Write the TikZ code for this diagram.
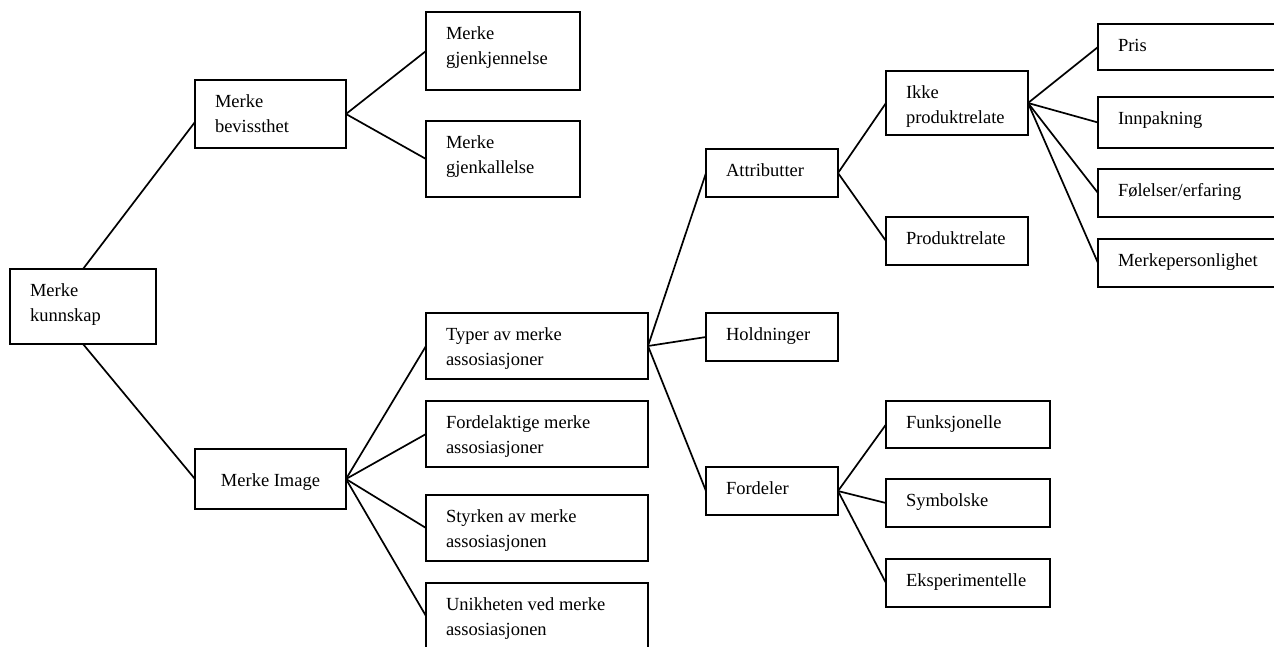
\documentclass[tikz,border=0pt]{standalone}
\usepackage{fontspec}
\setmainfont{Liberation Serif}
% text block of a box: width, height, lines (first baseline 27pt below the top)
\newcommand\cell[3]{\parbox[t][#2pt][t]{\dimexpr#1pt-40pt\relax}{\raggedright\rule{0pt}{27pt}#3}}
\tikzset{
  box/.style={draw, line width=1.5pt, rectangle, inner xsep=20pt, inner ysep=0pt,
              outer sep=0pt, anchor=north west, font=\fontsize{18.5}{25}\selectfont},
  link/.style={draw, line width=1.7pt}
}
\begin{document}
\begin{tikzpicture}[x=1pt,y=-1pt]
\useasboundingbox (0,0) rectangle (1274,646);
\clip (0,0) rectangle (1274,646);

% level 0 and 1
\node[box] (kun) at (10,269)  {\cell{146}{75}{Merke\\kunnskap}};
\node[box] (bev) at (195,80)  {\cell{151}{68}{Merke\\bevissthet}};
\node[box] (img) at (195,449) {\parbox[t][60pt][t]{111pt}{\centering\rule{0pt}{37pt}Merke Image}};

% awareness branch
\node[box] (gjk) at (426,12)  {\cell{154}{78}{Merke\\gjenkjennelse}};
\node[box] (gjl) at (426,121) {\cell{154}{76}{Merke\\gjenkallelse}};

% image branch
\node[box] (typ) at (426,313) {\cell{222}{66}{Typer av merke\\assosiasjoner}};
\node[box] (fda) at (426,401) {\cell{222}{66}{Fordelaktige merke\\assosiasjoner}};
\node[box] (sty) at (426,495) {\cell{222}{66}{Styrken av merke\\assosiasjonen}};
\node[box] (uni) at (426,583) {\cell{222}{66}{Unikheten ved merke\\assosiasjonen}};

% types of associations
\node[box] (att) at (706,149) {\cell{132}{48}{Attributter}};
\node[box] (hol) at (706,313) {\cell{132}{48}{Holdninger}};
\node[box] (fdl) at (706,467) {\cell{132}{48}{Fordeler}};

% attributes
\node[box] (ikk) at (886,71)  {\cell{142}{64}{Ikke\\produktrelate}};
\node[box] (pro) at (886,217) {\cell{142}{48}{Produktrelate}};

\node[box] (pri) at (1098,24)  {\cell{200}{46}{Pris}};
\node[box] (inn) at (1098,97)  {\cell{200}{51}{Innpakning}};
\node[box] (fol) at (1098,169) {\cell{200}{48}{Følelser/erfaring}};
\node[box] (mpe) at (1098,239) {\cell{200}{48}{Merkepersonlighet}};

% benefits
\node[box] (fun) at (886,401) {\cell{164}{47}{Funksjonelle}};
\node[box] (sym) at (886,479) {\cell{164}{48}{Symbolske}};
\node[box] (eks) at (886,559) {\cell{164}{48}{Eksperimentelle}};

% connectors
\draw[link] (kun.north) -- ([yshift=-8pt]bev.west);
\draw[link] (kun.south) -- (img.west);

\draw[link] (bev.east) -- (gjk.west);
\draw[link] (bev.east) -- (gjl.west);

\draw[link] (img.east) -- (typ.west);
\draw[link] (img.east) -- (fda.west);
\draw[link] (img.east) -- (sty.west);
\draw[link] (img.east) -- (uni.west);

\draw[link] (typ.east) -- (att.west);
\draw[link] (typ.east) -- (hol.west);
\draw[link] (typ.east) -- (fdl.west);

\draw[link] (att.east) -- (ikk.west);
\draw[link] (att.east) -- (pro.west);

\draw[link] (ikk.east) -- (pri.west);
\draw[link] (ikk.east) -- (inn.west);
\draw[link] (ikk.east) -- (fol.west);
\draw[link] (ikk.east) -- (mpe.west);

\draw[link] (fdl.east) -- (fun.west);
\draw[link] (fdl.east) -- (sym.west);
\draw[link] (fdl.east) -- (eks.west);
\end{tikzpicture}
\end{document}
